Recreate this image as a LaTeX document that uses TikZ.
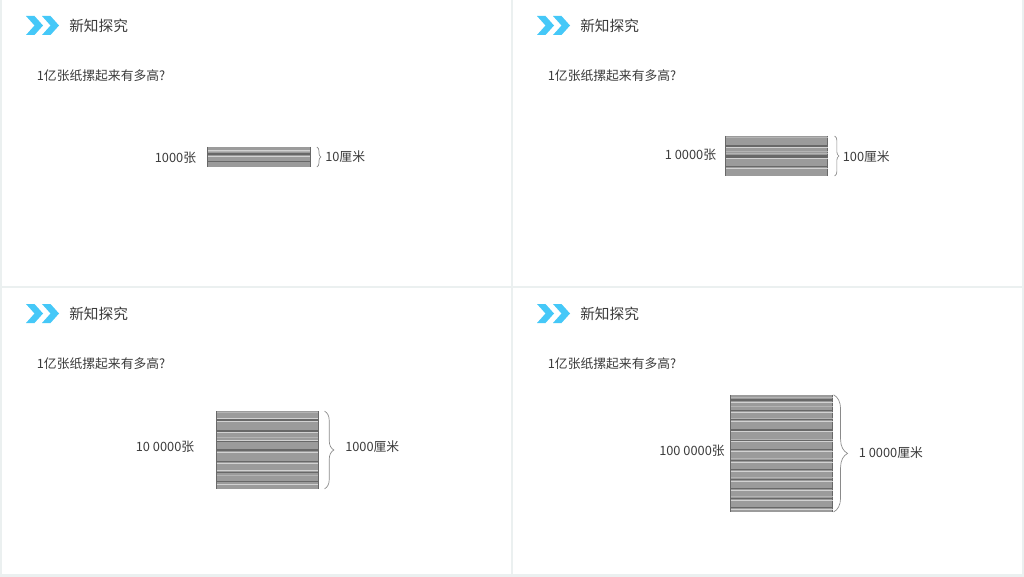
\documentclass[tikz,border=0pt]{standalone}
\usepackage{fontspec}
\setmainfont{Noto Sans CJK SC}
\usetikzlibrary{decorations.pathreplacing}
\definecolor{gapgray}{HTML}{EBF0F0}
\definecolor{arrowblue}{HTML}{45C8F8}
\definecolor{textgray}{HTML}{3C3C3C}
\definecolor{papergray}{HTML}{9B9B9B}
\definecolor{darkline}{HTML}{686868}
\definecolor{lightline}{HTML}{D2D2D2}
\definecolor{midline}{HTML}{B4B4B4}
\definecolor{bracegray}{HTML}{8A8A8A}
\begin{document}
\begin{tikzpicture}[x=0.75pt, y=-0.75pt,
		title/.style = {anchor=west, inner sep=0pt, text=textgray, font=\fontsize{11}{11}\selectfont},
		ask/.style = {anchor=west, inner sep=0pt, text=textgray, font=\fontsize{9.6}{10}\selectfont},
		count/.style = {anchor=west, inner sep=0pt, text=textgray, font=\fontsize{9.6}{10}\selectfont},
		stack/.style = {fill=papergray, inner sep=0pt, minimum width=76.5pt},
		darkstripe/.style = {darkline, line width=0.9pt},
		lightstripe/.style = {lightline, line width=0.6pt},
		midstripe/.style = {midline, line width=0.6pt},
		sidebrace/.style = {bracegray, line width=0.5pt, decorate}]

	\fill[gapgray] (0,0) rectangle (1024,577);
	\foreach \px/\py in {2/0, 513/0, 2/288, 513/288} {
		\fill[white] (\px,\py) rectangle ++(509,286);
		\fill[arrowblue] (\px+24,\py+16) -- ++(8.5,0) -- ++(8.5,9.5) -- ++(-8.5,9.5) -- ++(-8.5,0) -- ++(8.5,-9.5) -- cycle;
		\fill[arrowblue] (\px+40,\py+16) -- ++(8.5,0) -- ++(8.5,9.5) -- ++(-8.5,9.5) -- ++(-8.5,0) -- ++(8.5,-9.5) -- cycle;
		\node[title] at (\px+67,\py+25.5) {新知探究};
		\node[ask] at (\px+34.6,\py+75.5) {1亿张纸摞起来有多高?};
	}

	% paper stacks
	\node[stack, minimum height=14.6pt] (S1) at (258.75,157) {};
	\node[stack, minimum height=29.6pt] (S2) at (776.5,156) {};
	\node[stack, minimum height=57.8pt] (S3) at (267.3,450) {};
	\node[stack, minimum height=87.5pt] (S4) at (781.5,453.4) {};

	\foreach \s in {S1, S2, S3, S4} {
		\draw[darkline, line width=0.5pt] (\s.north west) -- (\s.south west);
		\draw[darkline, line width=0.5pt] (\s.north east) -- (\s.south east);
	}

	\foreach \my in {151.7} \draw[midstripe] (208,\my) -- (310,\my);
	\foreach \ly in {150, 156.7} \draw[lightstripe] (208,\ly) -- (310,\ly);
	\foreach \dy in {154, 161.3} \draw[darkstripe] (208,\dy) -- (310,\dy);

	\foreach \my in {137, 151.7, 153.5} \draw[midstripe] (726,\my) -- (828,\my);
	\foreach \ly in {147.7, 158.7, 168.3} \draw[lightstripe] (726,\ly) -- (828,\ly);
	\foreach \dy in {146, 156, 157.2, 166.7} \draw[darkstripe] (726,\dy) -- (828,\dy);

	\foreach \my in {412.3, 437.3, 475} \draw[midstripe] (216.5,\my) -- (317.5,\my);
	\foreach \ly in {418.3, 421.7, 432.3, 440, 452.7, 463.3, 470.7, 484} \draw[lightstripe] (216.5,\ly) -- (317.5,\ly);
	\foreach \dy in {420, 431, 441.7, 449.5, 450.5, 461.7, 472.7, 481.7} \draw[darkstripe] (216.5,\dy) -- (317.5,\dy);

	\foreach \my in {397.3, 406.7, 418.3, 439.3, 458.3, 477.3, 496.7} \draw[midstripe] (730.5,\my) -- (832.5,\my);
	\foreach \ly in {402.3, 412, 421, 431.7, 441.5, 451, 462, 471, 481, 490, 500.3, 509} \draw[lightstripe] (730.5,\ly) -- (832.5,\ly);
	\foreach \dy in {400, 410.7, 419.5, 430, 440.3, 449.3, 460.7, 469.3, 479.3, 488.3, 498.7, 507.3} \draw[darkstripe] (730.5,\dy) -- (832.5,\dy);

	% braces
	\draw[sidebrace, decoration={brace, amplitude=3pt}] ([xshift=5.2pt]S1.north east) -- ([xshift=5.2pt]S1.south east);
	\draw[sidebrace, decoration={brace, amplitude=3.2pt}] ([xshift=5.2pt]S2.north east) -- ([xshift=5.2pt]S2.south east);
	\draw[sidebrace, decoration={brace, amplitude=7pt}] ([xshift=4.5pt]S3.north east) -- ([xshift=4.5pt]S3.south east);
	\draw[sidebrace, decoration={brace, amplitude=10.5pt}] ([xshift=0.6pt]S4.north east) -- ([xshift=0.6pt]S4.south east);

	% labels
	\node[count] (A1) at (154.6,157.5) {1000张};
	\node[count] (B1) at (325,157) {10厘米};
	\node[count] (A2) at (664.6,155) {1 0000张};
	\node[count] (B2) at (842.6,156.5) {100厘米};
	\node[count] (A3) at (135.6,447) {10 0000张};
	\node[count] (B3) at (345,446.5) {1000厘米};
	\node[count] (A4) at (659,451) {100 0000张};
	\node[count] (B4) at (858.6,453) {1 0000厘米};
\end{tikzpicture}
\end{document}
